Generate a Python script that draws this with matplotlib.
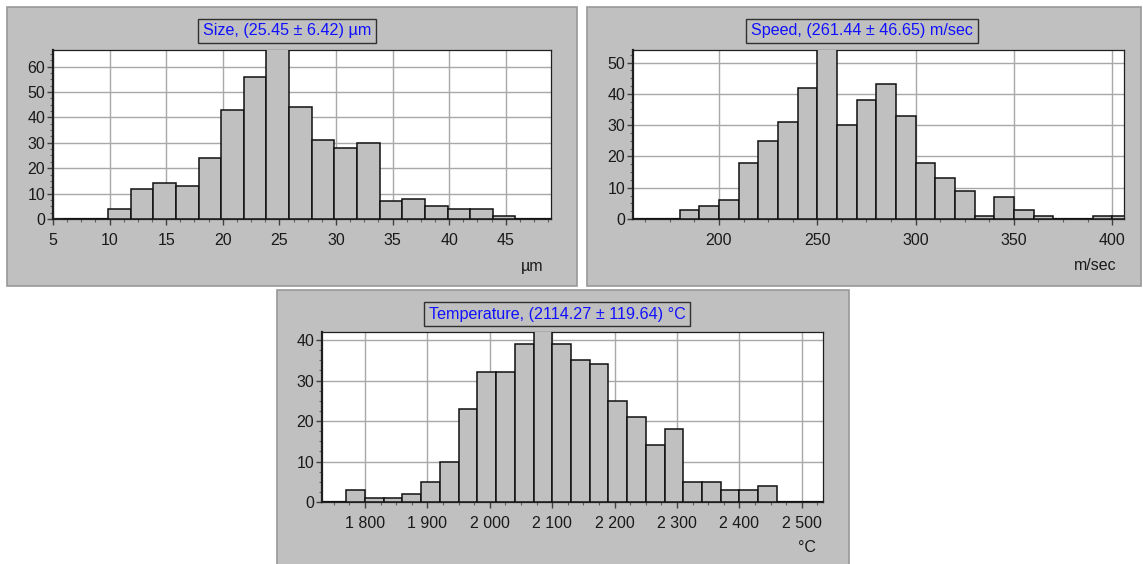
import matplotlib

matplotlib.use("Agg")
import matplotlib.pyplot as plt
from matplotlib.patches import Rectangle
from matplotlib.ticker import AutoMinorLocator, FuncFormatter, MultipleLocator

plt.rcParams["font.family"] = ["Liberation Sans", "DejaVu Sans"]
plt.rcParams["font.size"] = 11

W, H = 1143, 564

# histogram data (bin lower edges, counts)
size_edges = [5.86, 7.86, 9.86, 11.86, 13.86, 15.86, 17.86, 19.86, 21.86, 23.86, 25.86,
              27.86, 29.86, 31.86, 33.86, 35.86, 37.86, 39.86, 41.86, 43.86, 45.86, 47.86]
size_counts = [0, 0, 4, 12, 14, 13, 24, 43, 56, 70, 44, 31, 28, 30, 7, 8, 5, 4, 4, 1, 0, 0]
size_title = "Size, (25.45 ± 6.42) µm"
size_unit = "µm"

speed_edges = [150, 160, 170, 180, 190, 200, 210, 220, 230, 240, 250, 260, 270, 280,
               290, 300, 310, 320, 330, 340, 350, 360, 370, 380, 390, 400]
speed_counts = [0, 0, 0, 3, 4, 6, 18, 25, 31, 42, 58, 30, 38, 43, 33, 18, 13, 9, 1, 7,
                3, 1, 0, 0, 1, 1]
speed_title = "Speed, (261.44 ± 46.65) m/sec"
speed_unit = "m/sec"

temp_edges = [1710, 1740, 1770, 1800, 1830, 1860, 1890, 1920, 1950, 1980, 2010, 2040,
              2070, 2100, 2130, 2160, 2190, 2220, 2250, 2280, 2310, 2340, 2370, 2400,
              2430, 2460, 2490, 2520]
temp_counts = [0, 0, 3, 1, 1, 2, 5, 10, 23, 32, 32, 39, 44, 39, 35, 34, 25, 21, 14, 18,
               5, 5, 3, 3, 4, 0, 0, 0]
temp_title = "Temperature, (2114.27 ± 119.64) °C"
temp_unit = "°C"


def px_rect(x0, y0, x1, y1):
    """Figure-fraction rectangle from pixel box (top-left origin)."""
    return [x0 / W, 1 - y1 / H, (x1 - x0) / W, (y1 - y0) / H]


def frame(fig, x0, y0, x1, y1):
    l, b, w, h = px_rect(x0, y0, x1, y1)
    fig.add_artist(Rectangle((l, b), w, h, transform=fig.transFigure, zorder=-5,
                             facecolor="#c0c0c0", edgecolor="#989898", linewidth=1.2))


def space_thousands(v, pos):
    return f"{int(round(v)):,}".replace(",", " ")


def histogram(fig, box, edges, counts, width, xlim, ylim, xmajor, title, title_xy,
              unit, unit_xy, thousands=False):
    ax = fig.add_axes(px_rect(*box))
    ax.set_facecolor("white")
    ax.bar(edges, counts, width=width, align="edge", color="#c0c0c0",
           edgecolor="#101010", linewidth=1.1, zorder=3)
    ax.set_xlim(*xlim)
    ax.set_ylim(*ylim)
    ax.xaxis.set_major_locator(MultipleLocator(xmajor))
    ax.yaxis.set_major_locator(MultipleLocator(10))
    ax.xaxis.set_minor_locator(AutoMinorLocator(4))
    ax.yaxis.set_minor_locator(AutoMinorLocator(4))
    if thousands:
        ax.xaxis.set_major_formatter(FuncFormatter(space_thousands))
    ax.set_axisbelow(True)
    ax.grid(True, which="major", color="#a8a8a8", linewidth=1.0)
    for side in ("left", "bottom"):
        ax.spines[side].set_linewidth(1.6)
        ax.spines[side].set_color("#202020")
    for side in ("top", "right"):
        ax.spines[side].set_linewidth(0.9)
        ax.spines[side].set_color("#202020")
    ax.tick_params(axis="both", which="major", length=4, width=1, color="#404040",
                   labelcolor="#1a1a1a", labelsize=11.5)
    ax.tick_params(axis="both", which="minor", length=2.5, width=0.8, color="#606060")
    ax.tick_params(axis="x", which="major", pad=6)
    ax.tick_params(axis="y", which="major", pad=1.5)

    fig.text(title_xy[0] / W, 1 - title_xy[1] / H, title, ha="center", va="center",
             color="#1010ff", fontsize=11.6,
             bbox=dict(boxstyle="square,pad=0.3", facecolor="#c0c0c0",
                       edgecolor="#303030", linewidth=1.0))
    fig.text(unit_xy[0] / W, 1 - unit_xy[1] / H, unit, ha="center", va="center",
             color="#1a1a1a", fontsize=11.5)
    return ax


fig = plt.figure(figsize=(W / 100, H / 100), dpi=100)
fig.patch.set_facecolor("white")

frame(fig, 7, 7, 577, 286)
frame(fig, 587, 7, 1141, 286)
frame(fig, 277, 290, 849, 566)

histogram(fig, (53, 50, 551, 219), size_edges, size_counts, 2, (5, 49), (0, 66.5), 5,
          size_title, (287, 31), size_unit, (532, 266))
histogram(fig, (633, 50, 1124, 219), speed_edges, speed_counts, 10, (156.3, 406),
          (0, 54), 50, speed_title, (862, 31), speed_unit, (1095, 266))
histogram(fig, (322, 332, 823, 502), temp_edges, temp_counts, 30, (1731, 2534),
          (0, 42), 100, temp_title, (557, 314), temp_unit, (807, 547), thousands=True)

fig.savefig("out.png", dpi=100, facecolor=fig.get_facecolor())
